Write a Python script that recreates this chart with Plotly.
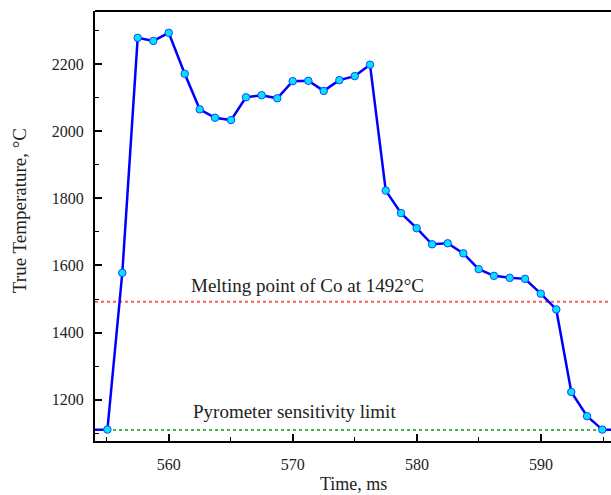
import plotly.graph_objects as go

time_ms = [552.6, 555.06, 556.26, 557.50, 558.76, 560.00, 561.29, 562.50, 563.73, 565.02,
           566.23, 567.49, 568.75, 569.99, 571.25, 572.49, 573.75, 574.99, 576.22,
           577.49, 578.72, 579.98, 581.22, 582.48, 583.74, 584.98, 586.21, 587.48,
           588.71, 589.98, 591.23, 592.44, 593.71, 594.94, 597.5]
temperature = [1110, 1111, 1578, 2278, 2269, 2293, 2171, 2065, 2040, 2033,
               2101, 2107, 2098, 2149, 2150, 2120, 2152, 2164, 2198,
               1823, 1756, 1711, 1663, 1666, 1636, 1589, 1569, 1563,
               1560, 1516, 1469, 1223, 1151, 1111, 1110]

melting_point = 1492
sensitivity_limit = 1110
x_range = [554.06, 595.64]
y_range = [1077, 2358]
x_ticks = [560, 570, 580, 590]
y_ticks = [1200, 1400, 1600, 1800, 2000, 2200]

font_family = "Liberation Serif"

fig = go.Figure()

fig.add_trace(go.Scatter(
    x=x_range, y=[melting_point, melting_point], mode="lines",
    line=dict(color="rgb(255,90,90)", width=2, dash="dot"),
    hoverinfo="skip", showlegend=False))
fig.add_trace(go.Scatter(
    x=x_range, y=[sensitivity_limit, sensitivity_limit], mode="lines",
    line=dict(color="rgb(70,175,70)", width=2, dash="dot"),
    hoverinfo="skip", showlegend=False))

fig.add_trace(go.Scatter(
    x=time_ms, y=temperature, mode="lines+markers",
    line=dict(color="#0000ff", width=2.5),
    marker=dict(size=7.5, color="#00e5ff", line=dict(color="#2040ff", width=1)),
    showlegend=False))

axis_common = dict(
    showline=True, linecolor="black", linewidth=2,
    ticks="inside", ticklen=7, tickwidth=1.5, tickcolor="black",
    showgrid=False, zeroline=False,
    tickfont=dict(family=font_family, size=16, color="#222"),
)

fig.update_xaxes(
    range=x_range, tickvals=x_ticks, ticktext=[str(v) for v in x_ticks],
    minor=dict(dtick=5, tick0=555, ticks="inside", ticklen=4, tickwidth=1.2, tickcolor="black"),
    ticklabelstandoff=8,
    **axis_common)
fig.update_yaxes(
    range=y_range, tickvals=y_ticks, ticktext=[str(v) for v in y_ticks],
    minor=dict(dtick=100, tick0=1100, ticks="inside", ticklen=4, tickwidth=1.2, tickcolor="black"),
    ticklabelstandoff=6,
    **axis_common)

# top frame line
fig.add_shape(type="line", xref="paper", yref="paper", x0=0, x1=1, y0=1, y1=1,
              line=dict(color="black", width=2))

fig.add_annotation(text="True Temperature, °C", textangle=-90,
                   xref="paper", yref="paper", x=-0.145, y=0.535, xanchor="center", yanchor="middle",
                   showarrow=False, font=dict(family=font_family, size=19, color="#222"))
fig.add_annotation(text="Time, ms", xref="paper", yref="paper", x=0.5, y=-0.101,
                   xanchor="center", yanchor="middle", showarrow=False,
                   font=dict(family=font_family, size=18, color="#222"))
fig.add_annotation(text="Melting point of Co at 1492°C", x=571.2, y=1541,
                   xanchor="center", yanchor="middle", showarrow=False,
                   font=dict(family=font_family, size=19, color="#222"))
fig.add_annotation(text="Pyrometer sensitivity limit", x=570.1, y=1164,
                   xanchor="center", yanchor="middle", showarrow=False,
                   font=dict(family=font_family, size=19, color="#222"))

fig.update_layout(
    width=611, height=495,
    margin=dict(l=95, r=0, t=11, b=54),
    plot_bgcolor="white", paper_bgcolor="white",
)

fig.write_html("out.html")
